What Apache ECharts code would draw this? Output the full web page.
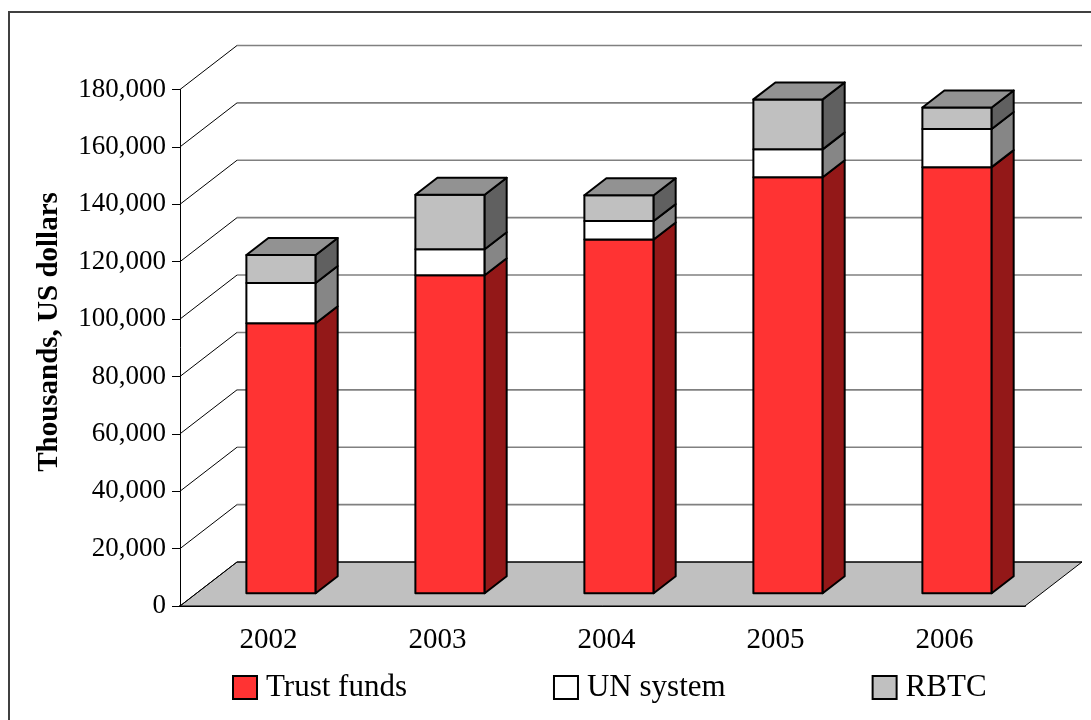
<!DOCTYPE html>
<html>
<head>
<meta charset="utf-8">
<script src="https://cdn.jsdelivr.net/npm/echarts@6/dist/echarts.min.js"></script>
<style>
  html, body { margin: 0; padding: 0; background: #fff; }
  #chart { width: 1091px; height: 720px; }
</style>
</head>
<body>
<div id="chart"></div>
<script>
  // data (thousands of US dollars)
  const years = ['2002', '2003', '2004', '2005', '2006']
  const trustFunds = [94100, 110800, 123300, 145000, 148500]
  const unSystem = [14000, 9100, 6400, 9700, 13300]
  const rbtc = [9800, 19000, 9000, 17400, 7500]
  const yTicks = [0, 20000, 40000, 60000, 80000, 100000, 120000, 140000, 160000, 180000]

  // fake 3d: depth of the whole plot, and where the bars sit in it
  const DX = 57, DY = -44
  const F0 = 0.29, DEPTH = 0.386, BAR = 0.41
  const FONT = 'Liberation Serif'

  const chart = echarts.init(document.getElementById('chart'))

  function wallItem(params, api) {
    const cs = params.coordSys
    const y = api.coord([0, api.value(1)])[1]
    const x0 = cs.x, x1 = cs.x + cs.width
    const children = []
    if (api.value(1) === 0) {
      children.push({
        type: 'polygon',
        shape: { points: [[x0, y], [x1, y], [x1 + DX, y + DY], [x0 + DX, y + DY]] },
        style: { fill: '#c0c0c0', stroke: '#000', lineWidth: 1 }
      })
    }
    children.push({
      type: 'line',
      shape: { x1: x0, y1: y, x2: x0 + DX, y2: y + DY },
      style: { stroke: '#000', lineWidth: 1 }
    })
    children.push({
      type: 'line',
      shape: { x1: x0 + DX, y1: y + DY, x2: x1 + DX, y2: y + DY },
      style: { stroke: api.value(1) === 0 ? '#000' : '#808080', lineWidth: api.value(1) === 0 ? 1 : 1.6 }
    })
    return { type: 'group', children: children }
  }

  function barItem(front, side, top) {
    return function (params, api) {
      const i = api.value(0)
      const b = api.coord([i, api.value(1)])
      const t = api.coord([i, api.value(2)])
      const half = api.size([1, 0])[0] * BAR / 2
      const fx = F0 * DX, fy = F0 * DY
      const dx = DEPTH * DX, dy = DEPTH * DY
      const xl = b[0] - half + fx, xr = b[0] + half + fx
      const yb = b[1] + fy, yt = t[1] + fy
      const line = { stroke: '#000', lineWidth: 2, lineJoin: 'round' }
      const children = [
        { type: 'rect', shape: { x: xl, y: yt, width: xr - xl, height: yb - yt },
          style: Object.assign({ fill: front }, line) },
        { type: 'polygon', shape: { points: [[xr, yt], [xr + dx, yt + dy], [xr + dx, yb + dy], [xr, yb]] },
          style: Object.assign({ fill: side }, line) }
      ]
      if (top) {
        children.push({ type: 'polygon', shape: { points: [[xl, yt], [xl + dx, yt + dy], [xr + dx, yt + dy], [xr, yt]] },
          style: Object.assign({ fill: top }, line) })
      }
      return { type: 'group', children: children }
    }
  }

  const base2 = trustFunds.map((v, i) => v + unSystem[i])
  const base3 = base2.map((v, i) => v + rbtc[i])

  chart.setOption({
    animation: false,
    grid: { left: 180, right: 66, top: 89.5, bottom: 114, containLabel: false },
    legend: {
      left: 232,
      top: 672,
      padding: 0,
      itemWidth: 24,
      itemHeight: 23,
      itemGap: 146,
      icon: 'rect',
      textStyle: { fontFamily: FONT, fontSize: 31, color: '#000', padding: [0, 0, 0, 4] },
      data: [
        { name: 'Trust funds', itemStyle: { color: '#ff3333', borderColor: '#000', borderWidth: 2 } },
        { name: 'UN system', itemStyle: { color: '#ffffff', borderColor: '#000', borderWidth: 2 } },
        { name: 'RBTC', itemStyle: { color: '#c0c0c0', borderColor: '#000', borderWidth: 2 } }
      ]
    },
    xAxis: {
      type: 'category',
      data: years,
      boundaryGap: true,
      axisLine: { lineStyle: { color: '#000', width: 2 } },
      axisTick: { length: 8, lineStyle: { color: '#000' } },
      axisLabel: { fontFamily: FONT, fontSize: 29, color: '#000', margin: 20, padding: [0, 0, 0, 8] },
      splitLine: { show: false }
    },
    yAxis: {
      type: 'value',
      min: 0,
      max: 180000,
      interval: 20000,
      axisLine: { show: true, lineStyle: { color: '#000', width: 1 } },
      axisTick: { show: true, length: 8, lineStyle: { color: '#000' } },
      axisLabel: {
        fontFamily: FONT, fontSize: 27, color: '#000', margin: 14,
        formatter: v => v.toLocaleString('en-US')
      },
      splitLine: { show: false }
    },
    graphic: [
      { type: 'rect', shape: { x: 9, y: 12, width: 1200, height: 800 },
        style: { fill: 'none', stroke: '#404040', lineWidth: 2 }, silent: true },
      { type: 'text', x: 50, y: 332, rotation: Math.PI / 2,
        style: { text: 'Thousands, US dollars', font: 'bold 29px "Liberation Serif"', fill: '#000',
          align: 'center', verticalAlign: 'middle' } }
    ],
    series: [
      {
        name: 'walls', type: 'custom', clip: false, z: 1, silent: true,
        renderItem: wallItem,
        data: yTicks.map(v => [0, v])
      },
      {
        name: 'Trust funds', type: 'custom', clip: false, z: 3,
        itemStyle: { color: '#ff3333', borderColor: '#000', borderWidth: 2 },
        renderItem: barItem('#ff3333', '#931818', null),
        data: trustFunds.map((v, i) => [i, 0, v])
      },
      {
        name: 'UN system', type: 'custom', clip: false, z: 4,
        itemStyle: { color: '#ffffff', borderColor: '#000', borderWidth: 2 },
        renderItem: barItem('#ffffff', '#868686', null),
        data: unSystem.map((v, i) => [i, trustFunds[i], base2[i]])
      },
      {
        name: 'RBTC', type: 'custom', clip: false, z: 5,
        itemStyle: { color: '#c0c0c0', borderColor: '#000', borderWidth: 2 },
        renderItem: barItem('#c0c0c0', '#606060', '#929292'),
        data: rbtc.map((v, i) => [i, base2[i], base3[i]])
      }
    ]
  })
</script>
</body>
</html>
